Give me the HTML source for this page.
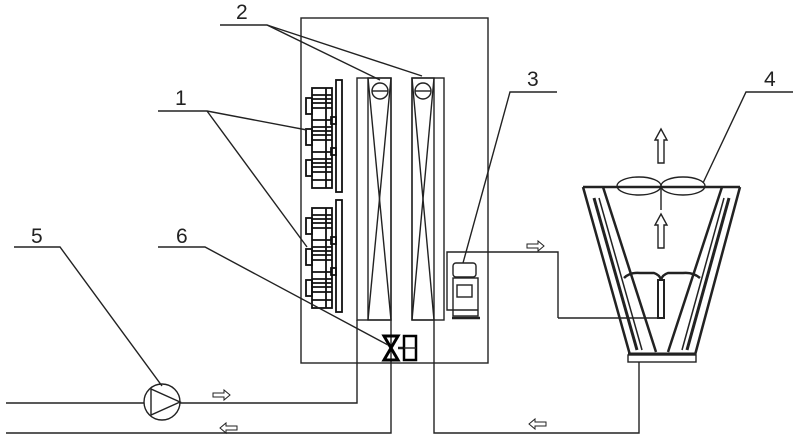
<!DOCTYPE html>
<html><head><meta charset="utf-8"><style>
html,body{margin:0;padding:0;background:#fff;}
svg{display:block;}
text{font-family:"Liberation Sans",sans-serif;font-size:21px;fill:#222;}
</style></head><body>
<svg width="799" height="440" viewBox="0 0 799 440" xmlns="http://www.w3.org/2000/svg">
<g fill="none" stroke="#222" stroke-width="1.4">
<rect x="301" y="18" width="187" height="345"/>
<rect x="357" y="78" width="34" height="242"/>
<rect x="368" y="78" width="23" height="242"/>
<line x1="368" y1="78" x2="391" y2="320"/><line x1="391" y1="78" x2="368" y2="320"/>
<circle cx="380" cy="91" r="8" fill="#fff"/><line x1="372" y1="91" x2="388" y2="91"/>
<rect x="412" y="78" width="32" height="242"/>
<rect x="412" y="78" width="22" height="242"/>
<line x1="412" y1="78" x2="434" y2="320"/><line x1="434" y1="78" x2="412" y2="320"/>
<circle cx="423" cy="91" r="8" fill="#fff"/><line x1="415" y1="91" x2="431" y2="91"/>
<g id="fg" stroke="#111" stroke-width="1.8">
<rect x="336" y="80" width="6" height="112"/>
<rect x="312" y="88" width="20" height="100"/>
<line x1="312" y1="95" x2="332" y2="95"/><line x1="312" y1="99" x2="332" y2="99"/><line x1="312" y1="103" x2="332" y2="103"/>
<line x1="312" y1="108" x2="332" y2="108"/><line x1="312" y1="120" x2="332" y2="120"/>
<line x1="312" y1="127" x2="332" y2="127"/><line x1="312" y1="131" x2="332" y2="131"/><line x1="312" y1="135" x2="332" y2="135"/>
<line x1="312" y1="140" x2="332" y2="140"/><line x1="312" y1="152" x2="332" y2="152"/>
<line x1="312" y1="159" x2="332" y2="159"/><line x1="312" y1="163" x2="332" y2="163"/><line x1="312" y1="167" x2="332" y2="167"/>
<line x1="312" y1="172" x2="332" y2="172"/><line x1="312" y1="180" x2="332" y2="180"/>
<rect x="306" y="98" width="6" height="16"/><rect x="306" y="129" width="6" height="16"/><rect x="306" y="160" width="6" height="16"/>
<rect x="331" y="117" width="5" height="7"/><rect x="331" y="148" width="5" height="7"/>
<line x1="326" y1="88" x2="326" y2="188"/>
</g>
<use href="#fg" transform="translate(0,120)"/>
<polyline points="558,318 558,252 447,252 447,310 478,310"/>
<rect x="453" y="263" width="23" height="14" rx="3"/>
<rect x="453" y="278" width="25" height="38"/>
<rect x="457" y="285" width="15" height="12"/>
<line x1="452" y1="318" x2="480" y2="318" stroke-width="2.5"/>
<polyline points="6,403 357,403 357,320"/>
<polyline points="6,433 391,433 391,320"/>
<polyline points="434,320 434,433 639,433 639,362"/>
<line x1="558" y1="318" x2="662" y2="318"/>
<circle cx="162" cy="402" r="18" fill="#fff"/>
<polygon points="151,389 151,415 180,402"/>
<polygon points="384,336 398,336 384,360 398,360" fill="none" stroke="#000" stroke-width="3"/>
<line x1="398" y1="348" x2="405" y2="348" stroke-width="2.5"/>
<rect x="404" y="336" width="12" height="24" stroke="#000" stroke-width="2.5"/>
<line x1="404" y1="348" x2="416" y2="348"/>
<line x1="583" y1="187" x2="740" y2="187" stroke-width="2.5"/>
<line x1="583" y1="187" x2="630" y2="355" stroke-width="2.5"/>
<line x1="740" y1="187" x2="695" y2="355" stroke-width="2.5"/>
<line x1="603" y1="187" x2="656" y2="352" stroke-width="2.5"/>
<line x1="722" y1="187" x2="668" y2="352" stroke-width="2.5"/>
<line x1="594" y1="198" x2="637" y2="350" stroke-width="3"/>
<line x1="599" y1="198" x2="642" y2="350" stroke-width="1.5"/>
<line x1="729" y1="198" x2="687" y2="350" stroke-width="3"/>
<line x1="724" y1="198" x2="682" y2="350" stroke-width="1.5"/>
<line x1="628" y1="354" x2="696" y2="354" stroke-width="3"/>
<rect x="628" y="355" width="68" height="7"/>
<path d="M624,278 Q630,272 640,273 L654,273 Q660,275 661,280 Q662,275 668,273 L683,273 Q693,272 700,278" stroke-width="2.5"/>
<rect x="658" y="280" width="6" height="38" stroke-width="2"/>
<ellipse cx="639" cy="186" rx="22" ry="9"/><ellipse cx="683" cy="186" rx="22" ry="9"/>
<line x1="661" y1="186" x2="661" y2="210"/>
<path d="M658,163 L658,140 L655,140 L661,129 L667,140 L664,140 L664,163 Z"/>
<path d="M658,248 L658,225 L655,225 L661,214 L667,225 L664,225 L664,248 Z"/>
<path d="M213,393 L224,393 L224,390 L230,395 L224,400 L224,397 L213,397 Z" stroke-width="1"/>
<path d="M237,426 L226,426 L226,423 L220,428 L226,433 L226,430 L237,430 Z" stroke-width="1"/>
<path d="M527,244 L538,244 L538,241 L544,246 L538,251 L538,248 L527,248 Z" stroke-width="1"/>
<path d="M546,422 L535,422 L535,419 L529,424 L535,429 L535,426 L546,426 Z" stroke-width="1"/>
<polyline points="220,25 267,25 380,80"/><line x1="267" y1="25" x2="422" y2="76"/>
<polyline points="158,111 207,111 307,130"/><line x1="207" y1="111" x2="307" y2="247"/>
<polyline points="557,92 510,92 463,263"/>
<polyline points="793,92 746,92 703,183"/>
<polyline points="14,247 60,247 162,386"/>
<polyline points="158,247 205,247 388,345"/>
</g>
<text x="236" y="19">2</text>
<text x="175" y="105">1</text>
<text x="527" y="86">3</text>
<text x="764" y="86">4</text>
<text x="31" y="243">5</text>
<text x="176" y="243">6</text>
</svg>
</body></html>
